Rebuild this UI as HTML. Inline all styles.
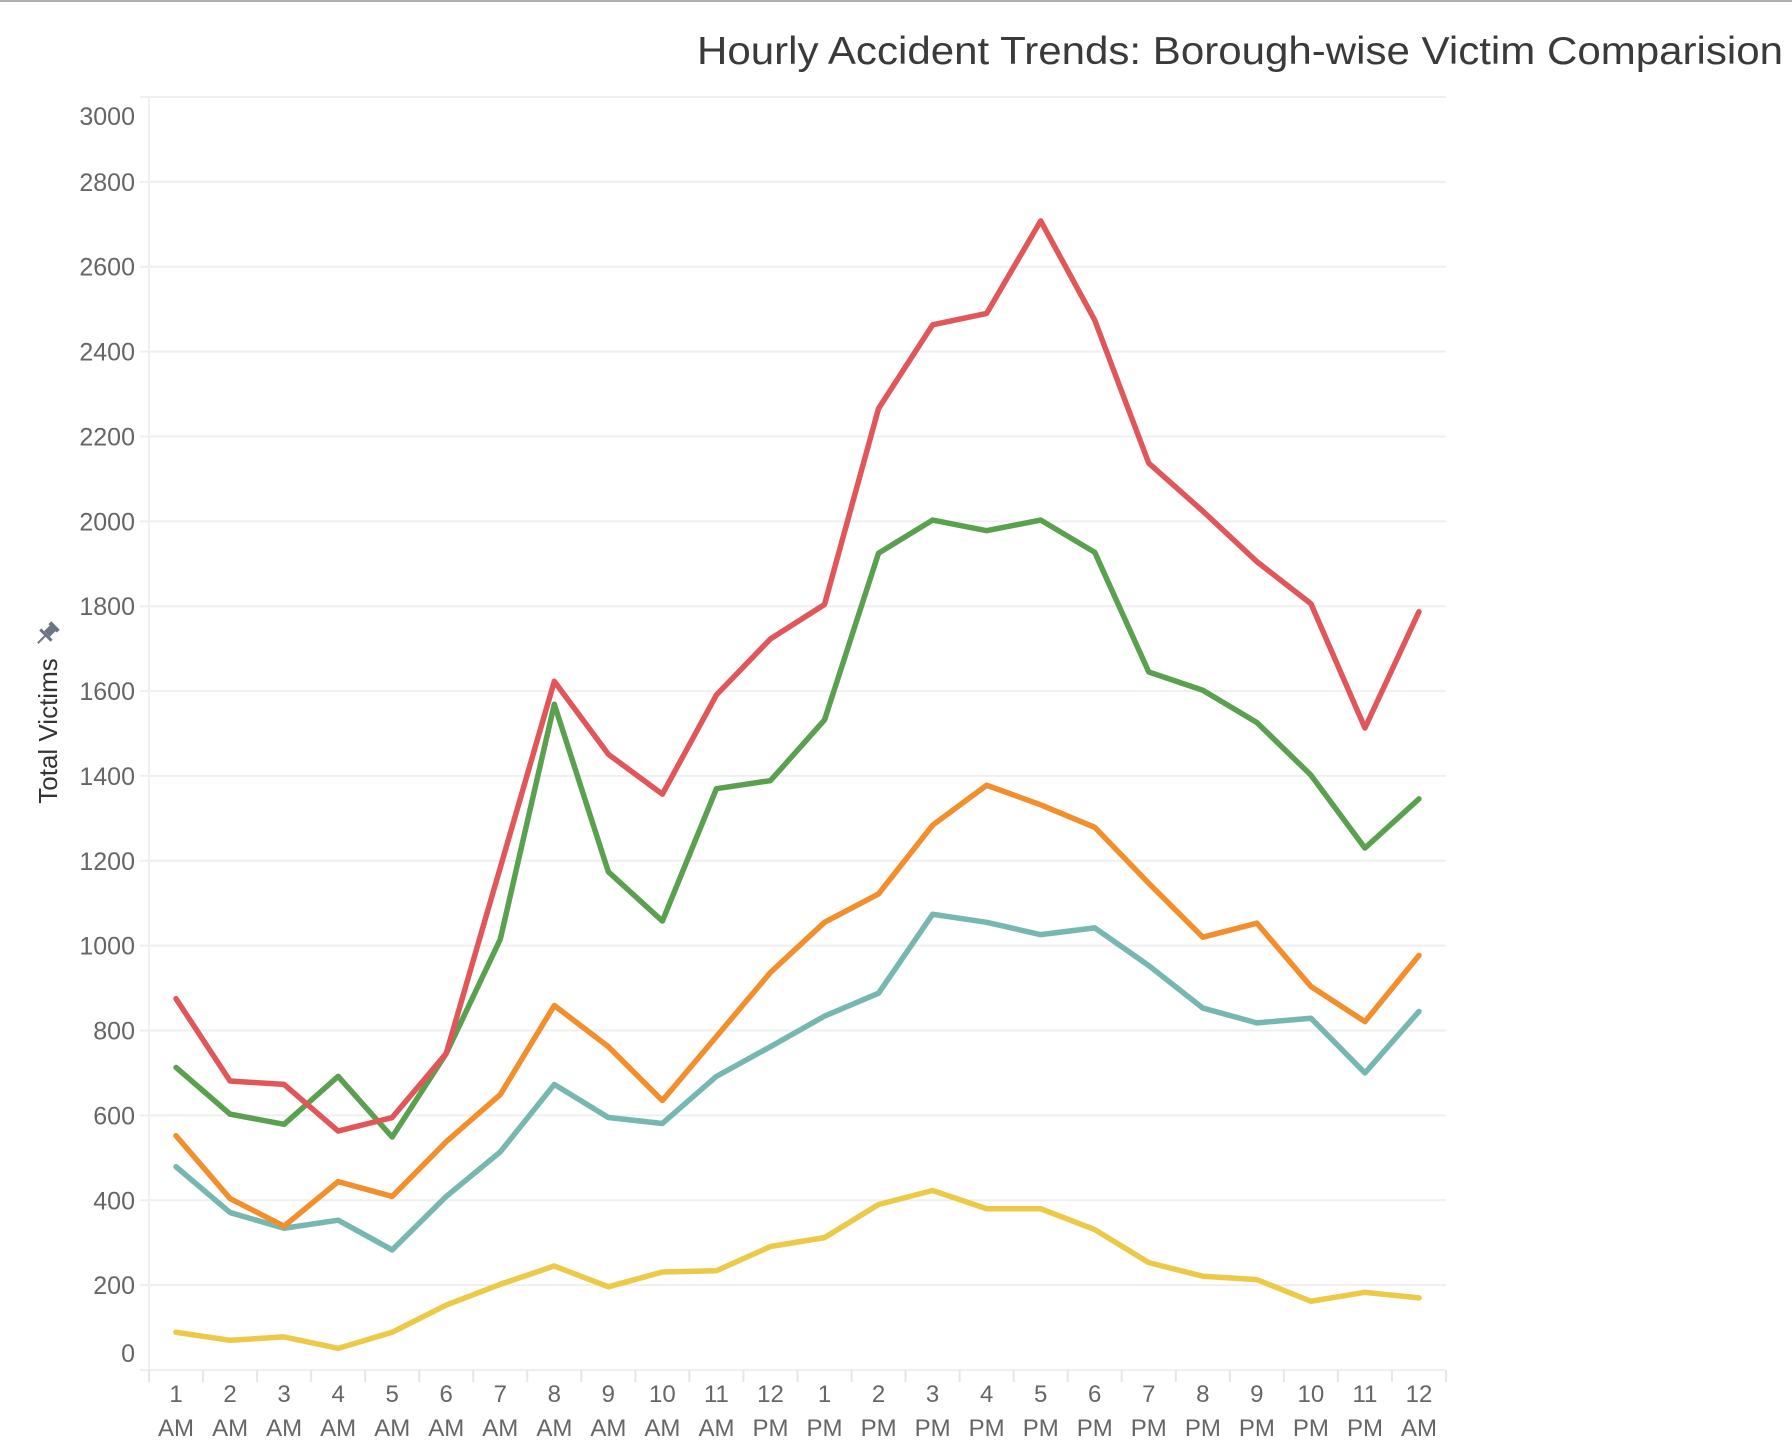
<!DOCTYPE html>
<html><head><meta charset="utf-8"><style>
html,body{margin:0;padding:0;background:#fff;}
svg{display:block;font-family:"Liberation Sans",sans-serif;}
</style></head><body>
<svg id="chart" width="1792" height="1456" viewBox="0 0 1792 1456" xmlns="http://www.w3.org/2000/svg">
<rect x="0" y="0" width="1792" height="2" fill="#b0b0b0"/>
<text x="697" y="64" textLength="1086" lengthAdjust="spacingAndGlyphs" font-size="39" fill="#3a3a3a">Hourly Accident Trends: Borough-wise Victim Comparision</text>
<g id="grid"></g>
<g id="yaxis"></g>
<g id="xaxis"></g>
<g id="series"></g>
<text transform="translate(57,731) rotate(-90)" text-anchor="middle" font-size="26" fill="#333">Total Victims</text>
<g transform="translate(47,634) rotate(45)" fill="#6b7585">
<rect x="-6" y="-12" width="12" height="4"/><rect x="-4" y="-9" width="8" height="9"/><rect x="-8" y="0" width="16" height="3"/><rect x="-1" y="3" width="2" height="10"/>
</g>
</svg>
<script>
const hours=["1","2","3","4","5","6","7","8","9","10","11","12","1","2","3","4","5","6","7","8","9","10","11","12"];
const periods=["AM","AM","AM","AM","AM","AM","AM","AM","AM","AM","AM","PM","PM","PM","PM","PM","PM","PM","PM","PM","PM","PM","PM","AM"];
const yTicks=[0,200,400,600,800,1000,1200,1400,1600,1800,2000,2200,2400,2600,2800,3000];
const redSeries=[875,681,673,563,595,746,1184,1623,1451,1357,1591,1723,1804,2266,2463,2490,2708,2474,2137,2024,1905,1806,1513,1787];
const greenSeries=[713,603,579,692,549,746,1015,1569,1174,1058,1370,1389,1532,1925,2003,1978,2003,1927,1645,1602,1526,1402,1230,1346];
const orangeSeries=[552,404,339,444,409,538,649,859,762,635,786,937,1055,1122,1284,1378,1332,1279,1147,1020,1053,904,821,977];
const tealSeries=[479,371,334,353,283,409,514,673,595,581,692,762,834,888,1074,1055,1026,1042,953,853,818,829,700,845];
const yellowSeries=[89,70,78,51,89,153,202,245,196,231,234,291,312,390,423,380,380,331,253,221,213,162,183,170];

const NS="http://www.w3.org/2000/svg";
const L=149,R=1446,T=97,B=1370,band=(R-L)/hours.length;
const x=i=>L+band*(i+0.5);
const y=v=>B-(v/3000)*(B-T);
function mk(tag,at,parent){const e=document.createElementNS(NS,tag);for(const k in at)e.setAttribute(k,at[k]);parent.appendChild(e);return e;}
const grid=document.getElementById('grid'),ya=document.getElementById('yaxis'),xa=document.getElementById('xaxis'),ser=document.getElementById('series');
yTicks.forEach(t=>{
  const gl=mk('line',{x1:140,x2:R,y1:y(t),y2:y(t),stroke:'#efefef','stroke-width':2},grid);
  
  
  const ly=Math.min(Math.max(y(t),116),1353);
  const tx=mk('text',{x:135,y:ly+9,'text-anchor':'end','font-size':25,fill:'#666'},ya);
  tx.textContent=t;
  
  
});
mk('line',{x1:L,x2:L,y1:T,y2:B+8,stroke:'#efefef','stroke-width':2},grid);
for(let i=0;i<=hours.length;i++){
  const tk=mk('line',{x1:L+band*i,x2:L+band*i,y1:B,y2:B+12,stroke:'#e6e6e6','stroke-width':2},xa);
  
  
}
hours.forEach((h,i)=>{
  const t1=mk('text',{x:x(i),y:1402,'text-anchor':'middle','font-size':24,fill:'#666'},xa);
  t1.textContent=h;
  
  
  const t2=mk('text',{x:x(i),y:1436,'text-anchor':'middle','font-size':24,fill:'#666'},xa);
  t2.textContent=periods[i];
  
  
});
const list=[[yellowSeries,'#edc948','yellow'],[tealSeries,'#76b7b2','teal'],[orangeSeries,'#f28e2b','orange'],[greenSeries,'#59a14f','green'],[redSeries,'#e15759','red']];
list.forEach(([d,c,n])=>{
  const p=mk('polyline',{points:d.map((v,i)=>x(i)+','+y(v)).join(' '),fill:'none',stroke:c,'stroke-width':5.5,'stroke-linejoin':'round','stroke-linecap':'round'},ser);
  
  
});
</script>
</body></html>
